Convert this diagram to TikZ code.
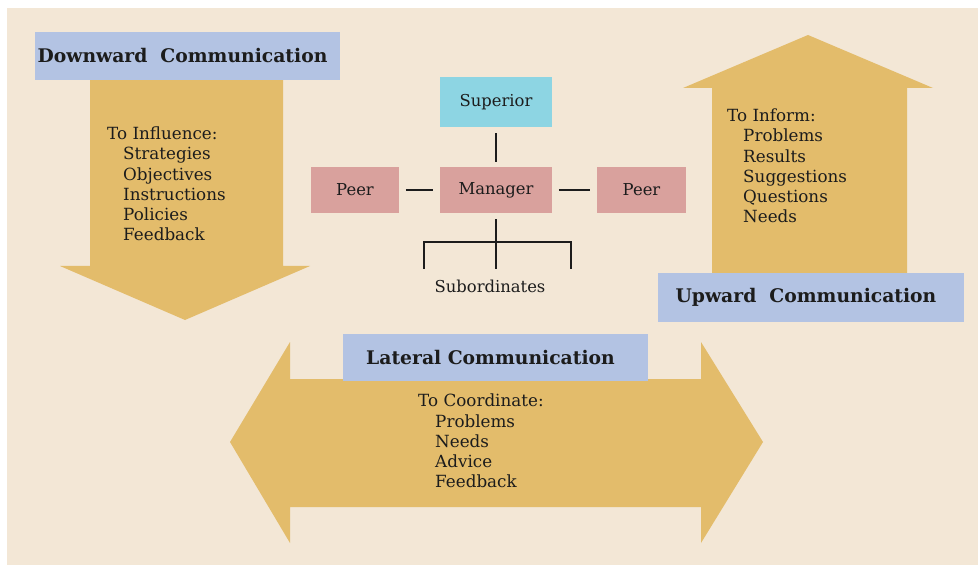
\documentclass[tikz,border=0pt]{standalone}
\usepackage{fontspec}
\setmainfont{DejaVu Serif}
\begin{document}
\begin{tikzpicture}[x=0.03cm,y=-0.03cm,
  cbox/.style={rectangle,inner sep=0pt,text=kInk,font=\fontsize{14}{17}\selectfont},
  hbox/.style={rectangle,inner sep=0pt,fill=kBlue,text=kInk,minimum height=1.44cm,minimum width=9.15cm,font=\bfseries\fontsize{16}{19}\selectfont},
  list/.style={anchor=north west,inner sep=0pt,align=left,text=kInk,font=\fontsize{14.3}{17.1}\selectfont},
  link/.style={color=kInk,line width=1.2pt}]
  \definecolor{kBack}{HTML}{F3E7D6}
  \definecolor{kArrow}{HTML}{E3BC6B}
  \definecolor{kBlue}{HTML}{B3C3E3}
  \definecolor{kCyan}{HTML}{8DD5E3}
  \definecolor{kPink}{HTML}{D9A19D}
  \definecolor{kInk}{HTML}{1C1C1C}

  \useasboundingbox (0,0) rectangle (978,567);
  \fill[kBack] (7,8) rectangle (978,565);

  \fill[kArrow] (90,80) -- (283,80) -- (283,266) -- (310,266) -- (185,320) -- (60,266) -- (90,266) -- cycle;
  \fill[kArrow] (808,35) -- (933,88) -- (907,88) -- (907,273) -- (712,273) -- (712,88) -- (683,88) -- cycle;
  \fill[kArrow] (230,442) -- (290,342) -- (290,379) -- (701,379) -- (701,342) -- (763,442)
    -- (701,543) -- (701,507) -- (290,507) -- (290,543) -- cycle;

  \node[hbox] (down) at (187.5,56) {\hspace*{-0.3cm}Downward\ \ Communication};
  \node[hbox,minimum width=9.18cm,minimum height=1.47cm] (up) at (811,297.5) {\hspace*{-0.3cm}Upward\ \ Communication};
  \node[hbox,minimum height=1.41cm] (lat) at (495.5,357.5) {\hspace*{-0.3cm}Lateral Communication};

  \node[list] (infl) at (107,127) {To Influence:\\\hspace*{0.48cm}Strategies\\\hspace*{0.48cm}Objectives\\\hspace*{0.48cm}Instructions\\\hspace*{0.48cm}Policies\\\hspace*{0.48cm}Feedback};
  \node[list] (inform) at (727,109) {To Inform:\\\hspace*{0.48cm}Problems\\\hspace*{0.48cm}Results\\\hspace*{0.48cm}Suggestions\\\hspace*{0.48cm}Questions\\\hspace*{0.48cm}Needs};
  \node[list] (coord) at (418,394) {To Coordinate:\\\hspace*{0.51cm}Problems\\\hspace*{0.51cm}Needs\\\hspace*{0.51cm}Advice\\\hspace*{0.51cm}Feedback};

  \node[cbox,fill=kCyan,minimum width=3.36cm,minimum height=1.5cm] (sup) at (496,102) {Superior};
  \node[cbox,fill=kPink,minimum width=3.36cm,minimum height=1.38cm] (mgr) at (496,190) {Manager};
  \node[cbox,fill=kPink,minimum width=2.64cm,minimum height=1.38cm] (peerL) at (355,190) {Peer};
  \node[cbox,fill=kPink,minimum width=2.67cm,minimum height=1.38cm] (peerR) at (641.5,190) {Peer};
  \node[cbox] (subs) at (490,286) {Subordinates};

  \coordinate (subC) at (496,269);
  \coordinate (subL) at (424,269);
  \coordinate (subR) at (571,269);
  \coordinate (subBar) at (496,242);

  \draw[link,shorten <=0.18cm,shorten >=0.15cm] (sup) -- (mgr);
  \draw[link,shorten <=0.2cm,shorten >=0.2cm] (peerL) -- (mgr);
  \draw[link,shorten <=0.2cm,shorten >=0.2cm] (mgr) -- (peerR);
  \draw[link,shorten <=0.18cm] (mgr) -- (subC);
  \draw[link] (subL) |- (subBar) -| (subR);

\end{tikzpicture}
\end{document}
